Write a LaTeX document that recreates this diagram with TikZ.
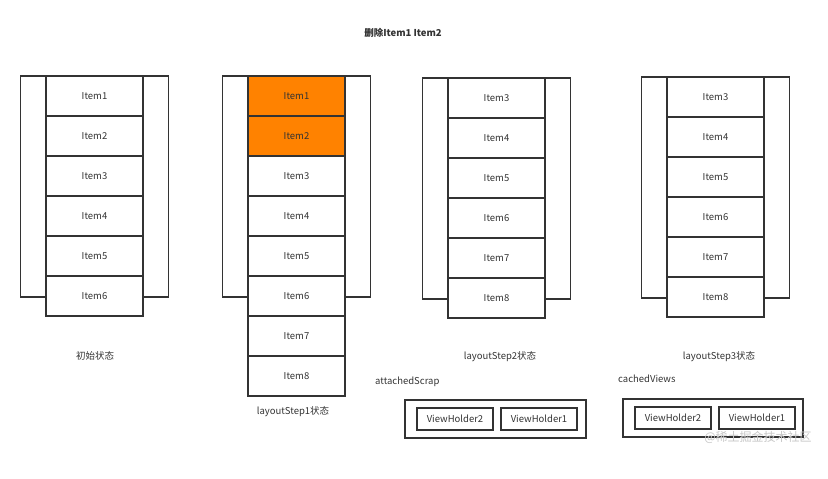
\documentclass[tikz,border=0pt]{standalone}
\usepackage{fontspec}
\setmainfont{Noto Sans CJK SC}
\usetikzlibrary{positioning}
\definecolor{linegray}{HTML}{333333}
\definecolor{delorange}{RGB}{255,130,0}

\begin{document}
\begin{tikzpicture}[x=1pt,y=-1pt,font=\fontsize{9.5}{11}\selectfont,text=linegray,
  item/.style={draw=linegray,line width=1.1pt,fill=white,minimum width=97pt,
    minimum height=40pt,inner sep=0pt,outer sep=0pt},
  frame/.style={draw=linegray,line width=1.1pt,minimum width=148pt,
    minimum height=221pt,inner sep=0pt,outer sep=0pt},
  pool/.style={draw=linegray,line width=1.1pt,minimum width=181pt,
    minimum height=38pt,inner sep=0pt,outer sep=0pt},
  holder/.style={draw=linegray,line width=1.1pt,minimum width=76pt,
    minimum height=22pt,inner sep=0pt,outer sep=0pt},
  deleted/.style={fill=delorange}]

  \useasboundingbox (0,0) rectangle (828,479);

  % Titel
  \node[font=\fontsize{9.5}{11}\selectfont\bfseries] (title) at (403,33) {删除Item1 Item2};

  % Anfangszustand
  \node[frame,anchor=north] (f1) at (94.5,76) {};
  \node[item,anchor=north] (a1) at (f1.north) {Item1};
  \foreach \n [remember=\n as \p (initially 1)] in {2,...,6}
    \node[item,below=0pt of a\p] (a\n) {Item\n};
  \node (cap1) at (95,356) {初始状态};

  % layoutStep1
  \node[frame,anchor=north] (f2) at (296.5,76) {};
  \node[item,deleted,anchor=north] (b1) at (f2.north) {Item1};
  \node[item,deleted,below=0pt of b1] (b2) {Item2};
  \foreach \n [remember=\n as \p (initially 2)] in {3,...,8}
    \node[item,below=0pt of b\p] (b\n) {Item\n};
  \node (cap2) at (293,412) {layoutStep1状态};

  % layoutStep2
  \node[frame,anchor=north] (f3) at (496.5,78) {};
  \node[item,anchor=north] (c3) at (f3.north) {Item3};
  \foreach \n [remember=\n as \p (initially 3)] in {4,...,8}
    \node[item,below=0pt of c\p] (c\n) {Item\n};
  \node (cap3) at (500,357) {layoutStep2状态};

  % layoutStep3
  \node[frame,anchor=north] (f4) at (715.5,77) {};
  \node[item,anchor=north] (d3) at (f4.north) {Item3};
  \foreach \n [remember=\n as \p (initially 3)] in {4,...,8}
    \node[item,below=0pt of d\p] (d\n) {Item\n};
  \node (cap4) at (719,357) {layoutStep3状态};

  % attachedScrap
  \node[anchor=west,inner sep=0pt] (scraplbl) at (375,382) {attachedScrap};
  \node[pool] (scrap) at (495.5,419) {};
  \node[holder,anchor=west] (svh2) at ([xshift=12pt]scrap.west) {ViewHolder2};
  \node[holder,right=8pt of svh2] (svh1) {ViewHolder1};

  % cachedViews
  \node[anchor=west,inner sep=0pt] (cachelbl) at (618,379) {cachedViews};
  \node[pool,minimum width=180pt] (cache) at (713,418) {};
  \node[holder,anchor=west] (cvh2) at ([xshift=12pt]cache.west) {ViewHolder2};
  \node[holder,right=8pt of cvh2] (cvh1) {ViewHolder1};

  % Wasserzeichen
  \node[text=black!22,font=\fontsize{12}{14}\selectfont] (mark) at (758,437) {@稀土掘金技术社区};

\end{tikzpicture}
\end{document}
